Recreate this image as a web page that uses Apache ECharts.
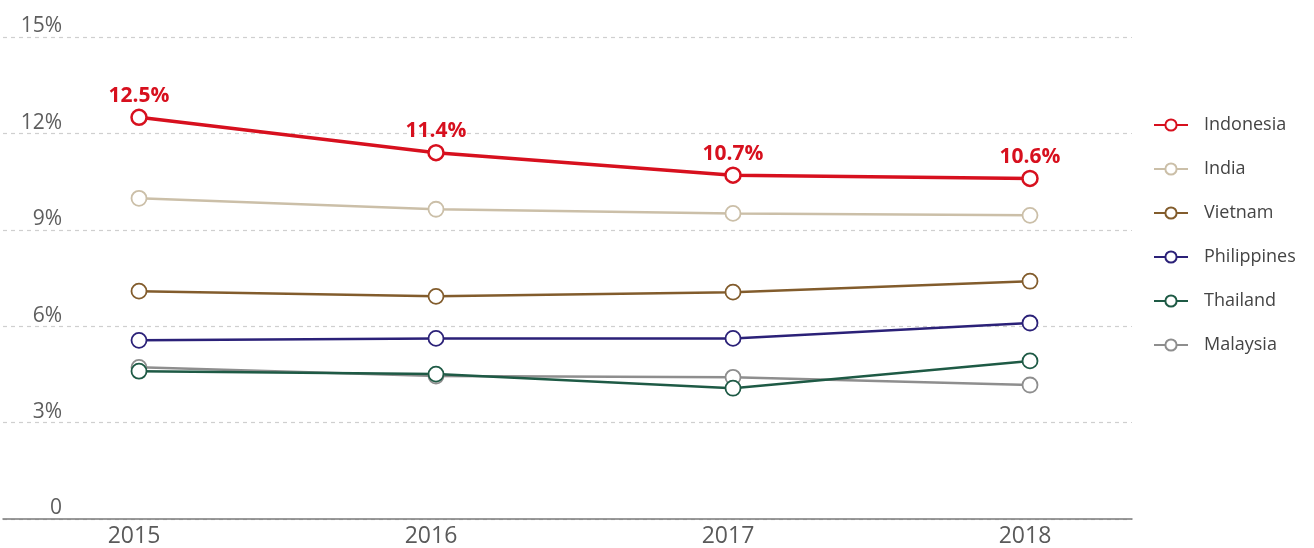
<!DOCTYPE html>
<html>
<head>
<meta charset="utf-8">
<script src="https://cdn.jsdelivr.net/npm/echarts@6/dist/echarts.min.js"></script>
<style>html,body{margin:0;padding:0;background:#fff;}#c{width:1314px;height:548px;}</style>
</head>
<body>
<div id="c"></div>
<script>
const years = ['2015', '2016', '2017', '2018'];
const yTicks = [0, 3, 6, 9, 12, 15];
const indonesia = [12.5, 11.4, 10.7, 10.6];
const india = [9.98, 9.64, 9.51, 9.45];
const vietnam = [7.09, 6.93, 7.06, 7.40];
const philippines = [5.56, 5.62, 5.62, 6.10];
const thailand = [4.60, 4.51, 4.07, 4.92];
const malaysia = [4.72, 4.45, 4.41, 4.17];

const seriesDefs = [
  { name: 'Indonesia', data: indonesia, color: '#d7101e', width: 3.5, labels: true },
  { name: 'India', data: india, color: '#cbbfa8', width: 2.5 },
  { name: 'Vietnam', data: vietnam, color: '#825c2c', width: 2.5 },
  { name: 'Philippines', data: philippines, color: '#2b2178', width: 2.5 },
  { name: 'Thailand', data: thailand, color: '#1e5a45', width: 2.5 },
  { name: 'Malaysia', data: malaysia, color: '#8e8e8e', width: 2.5 }
];

const chart = echarts.init(document.getElementById('c'));
const TOP = 37, BOTTOM = 29;
chart.setOption({
  animation: false,
  backgroundColor: '#fff',
  grid: [
    { left: 3, right: 182, top: TOP, bottom: BOTTOM },
    { left: 139, right: 284, top: TOP, bottom: BOTTOM }
  ],
  xAxis: [
    { gridIndex: 0, type: 'value', min: 0, max: 1, axisLine: { show: true, onZero: false, lineStyle: { color: '#7a7a7a', width: 1.5 } },
      axisTick: { show: false }, axisLabel: { show: false }, splitLine: { show: false } },
    { gridIndex: 1, type: 'category', data: years, boundaryGap: false,
      axisLine: { show: false }, axisTick: { show: false },
      axisLabel: { color: '#5a5a5a', fontFamily: 'Open Sans', fontSize: 23, margin: 6, padding: [0, 10, 0, 0] } }
  ],
  yAxis: [
    { gridIndex: 0, type: 'value', min: 0, max: 15, interval: 3,
      axisLine: { show: false }, axisTick: { show: false },
      splitLine: { show: true, lineStyle: { color: '#cfcfcf', type: [4, 4], width: 1.2 } },
      axisLabel: { inside: true, margin: 59, align: 'right', verticalAlign: 'bottom', padding: [0, 0, 0, 0],
        color: '#5e5e5e', fontFamily: 'Open Sans', fontSize: 21,
        formatter: v => (yTicks.indexOf(v) >= 0 ? (v === 0 ? '0' : v + '%') : '') } },
    { gridIndex: 1, type: 'value', min: 0, max: 15, show: false }
  ],
  legend: {
    orient: 'vertical', left: 1148, top: 110, itemWidth: 34, itemHeight: 14, itemGap: 24,
    data: seriesDefs.map(s => s.name),
    textStyle: { color: '#444', fontFamily: 'Open Sans', fontSize: 18, lineHeight: 20, padding: [0, 0, 0, 11] }
  },
  series: seriesDefs.slice().reverse().map(s => ({
    name: s.name, type: 'line', xAxisIndex: 1, yAxisIndex: 1, data: s.data,
    symbol: 'circle', symbolSize: 15, showAllSymbol: true,
    lineStyle: { color: s.color, width: s.width },
    itemStyle: { color: '#fff', borderColor: s.color, borderWidth: s.labels ? 2.5 : 1.8 },
    label: s.labels ? { show: true, position: 'top', distance: 2, color: '#d7101e', fontFamily: 'Open Sans', fontWeight: 'bold', fontSize: 21,
      formatter: p => p.value.toFixed(1) + '%' } : { show: false },
    emphasis: { disabled: true }
  }))
});
</script>
</body>
</html>
